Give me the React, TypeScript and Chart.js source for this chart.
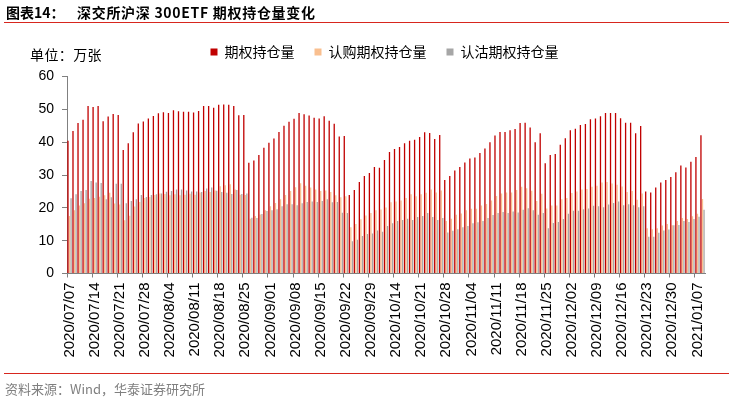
import React, { useEffect, useRef } from "react";
import { Chart, registerables } from "chart.js";

Chart.register(...registerables);

const categories: string[] = [
  "2020/07/07","2020/07/08","2020/07/09","2020/07/10","2020/07/13","2020/07/14","2020/07/15","2020/07/16","2020/07/17",
  "2020/07/20","2020/07/21","2020/07/22","2020/07/23","2020/07/24","2020/07/27","2020/07/28","2020/07/29","2020/07/30","2020/07/31",
  "2020/08/03","2020/08/04","2020/08/05","2020/08/06","2020/08/07","2020/08/10","2020/08/11","2020/08/12","2020/08/13","2020/08/14",
  "2020/08/17","2020/08/18","2020/08/19","2020/08/20","2020/08/21","2020/08/24","2020/08/25","2020/08/26","2020/08/27","2020/08/28",
  "2020/08/31","2020/09/01","2020/09/02","2020/09/03","2020/09/04","2020/09/07","2020/09/08","2020/09/09","2020/09/10","2020/09/11",
  "2020/09/14","2020/09/15","2020/09/16","2020/09/17","2020/09/18","2020/09/21","2020/09/22","2020/09/23","2020/09/24","2020/09/25",
  "2020/09/28","2020/09/29","2020/09/30","2020/10/09","2020/10/12","2020/10/13","2020/10/14","2020/10/15","2020/10/16",
  "2020/10/19","2020/10/20","2020/10/21","2020/10/22","2020/10/23","2020/10/26","2020/10/27","2020/10/28","2020/10/29","2020/10/30",
  "2020/11/02","2020/11/03","2020/11/04","2020/11/05","2020/11/06","2020/11/09","2020/11/10","2020/11/11","2020/11/12","2020/11/13",
  "2020/11/16","2020/11/17","2020/11/18","2020/11/19","2020/11/20","2020/11/23","2020/11/24","2020/11/25","2020/11/26","2020/11/27",
  "2020/11/30","2020/12/01","2020/12/02","2020/12/03","2020/12/04","2020/12/07","2020/12/08","2020/12/09","2020/12/10","2020/12/11",
  "2020/12/14","2020/12/15","2020/12/16","2020/12/17","2020/12/18","2020/12/21","2020/12/22","2020/12/23","2020/12/24","2020/12/25",
  "2020/12/28","2020/12/29","2020/12/30","2020/12/31","2021/01/04","2021/01/05","2021/01/06","2021/01/07","2021/01/08"
];

// 期权持仓量 (万张)
const totalOI: number[] = [
  40.4, 43.4, 45.8, 46.8, 51.0, 50.7, 51.0, 46.4, 47.8, 48.6,
  48.3, 37.6, 39.7, 43.0, 45.7, 46.3, 47.2, 48.0, 48.8, 49.1,
  48.9, 49.7, 49.4, 49.3, 49.3, 49.0, 49.5, 51.0, 51.0, 50.5,
  51.4, 51.5, 51.4, 51.0, 48.2, 48.3, 33.7, 34.4, 36.1, 38.3,
  39.8, 41.1, 43.1, 45.0, 46.2, 47.1, 48.9, 48.5, 48.1, 47.4,
  47.2, 47.9, 46.5, 45.6, 41.7, 41.9, 23.9, 25.4, 27.9, 29.7,
  30.6, 32.4, 32.2, 34.6, 37.0, 37.9, 38.5, 39.7, 40.4, 40.7,
  41.6, 43.0, 42.8, 41.0, 42.2, 28.5, 29.7, 31.4, 32.4, 33.8,
  35.0, 35.3, 36.7, 38.1, 40.0, 42.0, 43.1, 43.1, 43.6, 44.0,
  45.8, 45.9, 44.5, 40.0, 42.7, 33.6, 36.1, 36.4, 39.2, 41.2,
  43.6, 44.1, 45.2, 45.5, 47.0, 47.2, 47.9, 48.9, 48.9, 48.9,
  47.3, 45.9, 45.9, 42.7, 44.9, 25.0, 24.7, 26.2, 27.7, 28.5,
  29.4, 30.8, 32.9, 32.3, 34.0, 35.5, 42.1
];

// 认购期权持仓量 (万张)
const callOI: number[] = [
  17.5, 19.3, 20.7, 21.4, 22.8, 23.0, 23.4, 23.8, 24.6, 21.3,
  21.0, 16.2, 17.6, 20.4, 21.8, 23.0, 23.3, 23.9, 24.4, 24.2,
  23.8, 24.1, 23.8, 24.0, 24.3, 24.0, 24.7, 25.1, 24.8, 25.3,
  26.6, 26.9, 27.2, 25.6, 24.0, 23.9, 16.7, 17.5, 18.0, 19.3,
  20.5, 21.5, 22.6, 23.9, 25.1, 26.3, 27.5, 26.7, 26.2, 25.6,
  25.1, 25.3, 24.8, 23.8, 23.2, 23.5, 14.1, 15.1, 16.5, 17.7,
  18.4, 19.3, 19.5, 20.1, 21.7, 21.9, 22.2, 23.0, 24.1, 23.5,
  24.1, 24.6, 25.6, 24.7, 25.3, 16.0, 16.7, 17.9, 18.3, 19.3,
  19.7, 19.7, 20.7, 21.2, 22.2, 23.6, 24.4, 24.7, 24.7, 25.4,
  26.4, 26.0, 25.2, 22.1, 24.3, 19.8, 20.7, 20.7, 22.6, 23.0,
  24.5, 25.0, 25.6, 25.7, 26.4, 26.7, 27.7, 27.9, 27.4, 27.0,
  26.5, 24.8, 25.1, 22.5, 24.4, 13.8, 13.5, 13.8, 14.6, 15.1,
  14.7, 16.0, 16.9, 16.6, 17.4, 18.2, 22.7
];

// 认沽期权持仓量 (万张)
const putOI: number[] = [
  22.9, 24.1, 25.1, 25.4, 28.2, 27.7, 27.6, 22.6, 23.2, 27.3,
  27.3, 21.4, 22.1, 22.6, 23.9, 23.3, 23.9, 24.1, 24.4, 24.9,
  25.1, 25.6, 25.6, 25.3, 25.0, 25.0, 24.8, 25.9, 26.2, 25.2,
  24.8, 24.6, 24.2, 25.4, 24.2, 24.4, 17.0, 16.9, 18.1, 19.0,
  19.3, 19.6, 20.5, 21.1, 21.1, 20.8, 21.4, 21.8, 21.9, 21.8,
  22.1, 22.6, 21.7, 21.8, 18.5, 18.4, 9.8, 10.3, 11.4, 12.0,
  12.2, 13.1, 12.7, 14.5, 15.3, 16.0, 16.3, 16.7, 16.3, 17.2,
  17.5, 18.4, 17.2, 16.3, 16.9, 12.5, 13.0, 13.5, 14.1, 14.5,
  15.3, 15.6, 16.0, 16.9, 17.8, 18.4, 18.7, 18.4, 18.9, 18.6,
  19.4, 19.9, 19.3, 17.9, 18.4, 13.8, 15.4, 15.7, 16.6, 18.2,
  19.1, 19.1, 19.6, 19.8, 20.6, 20.5, 20.2, 21.0, 21.5, 21.9,
  20.8, 21.1, 20.8, 20.2, 20.5, 11.2, 11.2, 12.4, 13.1, 13.4,
  14.7, 14.8, 16.0, 15.7, 16.6, 17.3, 19.4
];

const seriesNames: string[] = ["期权持仓量", "认购期权持仓量", "认沽期权持仓量"];
const seriesColors: string[] = ["#C00000", "#F9BF8F", "#A6A6A6"];
const yMin = 0;
const yMax = 60;
const yStep = 10;
const labelEvery = 5;

// Adds space under the legend and shifts it so it sits centred over the plot.
const legendSpacer = {
  id: "legendSpacer",
  beforeInit(chart: any) {
    const origFit = chart.legend.fit;
    chart.legend.fit = function () {
      origFit.bind(chart.legend)();
      this.height += 7.5;
    };
  },
  afterLayout(chart: any) {
    if (chart.legend) {
      chart.legend.left += 64;
      chart.legend.width = chart.legend.right - chart.legend.left;
    }
  },
};

export default function App() {
  const ref = useRef<HTMLCanvasElement>(null);

  useEffect(() => {
    const canvas = ref.current;
    if (!canvas) return;
    const chart = new Chart(canvas, {
      type: "bar",
      data: {
        labels: categories,
        datasets: [totalOI, callOI, putOI].map((d, i) => ({
          label: seriesNames[i],
          data: d,
          backgroundColor: seriesColors[i],
          borderWidth: 0,
          categoryPercentage: 0.92,
          barPercentage: 0.85,
        })),
      },
      options: {
        responsive: false,
        animation: false,
        devicePixelRatio: 1,
        layout: { padding: { left: 0, right: 26, top: 25, bottom: 0 } },
        plugins: {
          legend: {
            position: "top",
            align: "center",
            labels: {
              boxWidth: 7,
              boxHeight: 7,
              padding: 20,
              color: "#000",
              font: { family: '"Noto Sans CJK SC", sans-serif', size: 14 },
            },
          },
          tooltip: { enabled: false },
          title: { display: false },
        },
        scales: {
          x: {
            offset: true,
            grid: {
              display: true,
              offset: true,
              drawOnChartArea: false,
              drawTicks: true,
              tickLength: 4,
              color: (c: any) => (c.index % labelEvery === 0 ? "#808080" : "rgba(0,0,0,0)"),
            },
            border: { display: true, color: "#808080", width: 1 },
            ticks: {
              autoSkip: false,
              maxRotation: 90,
              minRotation: 90,
              padding: 5,
              color: "#000",
              font: { family: '"Liberation Sans", Arial, sans-serif', size: 15 },
              callback: (_v: any, i: number) => (i % labelEvery === 0 ? categories[i] : ""),
            },
            afterFit: (s: any) => {
              s.height = 125.5;
            },
          },
          y: {
            min: yMin,
            max: yMax,
            ticks: {
              stepSize: yStep,
              padding: 8,
              color: "#000",
              font: { family: '"Liberation Sans", Arial, sans-serif', size: 14 },
            },
            grid: { drawOnChartArea: false, tickLength: 5, color: "#808080" },
            border: { display: true, color: "#808080", width: 1 },
            afterFit: (s: any) => {
              s.width = 67;
            },
          },
        },
      },
      plugins: [legendSpacer],
    } as any);
    return () => chart.destroy();
  }, []);

  const cjk = '"Noto Sans CJK SC", sans-serif';

  return (
    <div
      style={{
        position: "absolute",
        left: 0,
        top: 0,
        width: 731,
        height: 399,
        background: "#fff",
        overflow: "hidden",
        fontFamily: cjk,
      }}
    >
      <canvas ref={ref} width={731} height={399} style={{ position: "absolute", left: 0, top: 0 }} />
      <div
        style={{
          position: "absolute",
          left: 6,
          top: 3.5,
          fontSize: 14,
          lineHeight: "16px",
          fontWeight: 700,
          color: "#000",
          whiteSpace: "nowrap",
        }}
      >
        图表14：
      </div>
      <div
        style={{
          position: "absolute",
          left: 77,
          top: 3.5,
          fontSize: 14,
          lineHeight: "16px",
          fontWeight: 700,
          color: "#000",
          whiteSpace: "nowrap",
          letterSpacing: "0.7px",
        }}
      >
        深交所沪深 300ETF 期权持仓量变化
      </div>
      <div style={{ position: "absolute", left: 4, top: 21.5, width: 725, height: 1, background: "#D7261E" }} />
      <div
        style={{
          position: "absolute",
          left: 30,
          top: 46,
          fontSize: 14,
          lineHeight: "16px",
          color: "#000",
          whiteSpace: "nowrap",
          letterSpacing: "0.4px",
        }}
      >
        单位：万张
      </div>
      <div style={{ position: "absolute", left: 4, top: 372.5, width: 725, height: 1, background: "#D7261E" }} />
      <div
        style={{
          position: "absolute",
          left: 5,
          top: 381,
          fontSize: 13,
          lineHeight: "16px",
          color: "#7F7F7F",
          whiteSpace: "nowrap",
        }}
      >
        资料来源：Wind，华泰证券研究所
      </div>
    </div>
  );
}
